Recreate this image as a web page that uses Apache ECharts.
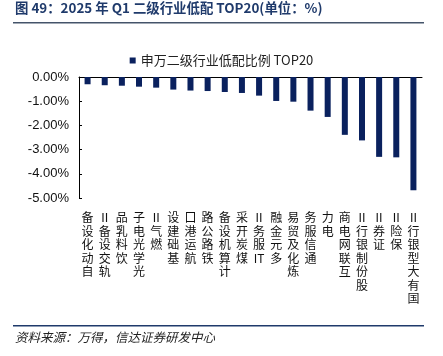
<!DOCTYPE html>
<html><head><meta charset="utf-8">
<script src="https://cdn.jsdelivr.net/npm/echarts@6/dist/echarts.min.js"></script>
<style>html,body{margin:0;padding:0;background:#fff}#c{width:443px;height:356px}</style>
</head><body><div id="c"></div>
<script>
var categories = ['自动化设备','轨交设备Ⅱ','饮料乳品','光学光电子','燃气Ⅱ','基础建设','航运港口','铁路公路','计算机设备','煤炭开采','IT服务Ⅱ','多元金融','炼化及贸易','通信服务','电力','互联网电商','股份制银行Ⅱ','证券Ⅱ','保险Ⅱ','国有大型银行Ⅱ'];
var values = [-0.30,-0.34,-0.36,-0.40,-0.44,-0.52,-0.56,-0.58,-0.62,-0.66,-0.77,-0.99,-1.02,-1.39,-1.65,-2.39,-2.62,-3.30,-3.32,-4.68];
var seriesName = '申万二级行业低配比例 TOP20';
var titleText = '图 49：2025 年 Q1 二级行业低配 TOP20(单位：%)';
var sourceText = '资料来源：万得，信达证券研发中心';

function stackLabel(s){
  var toks = s.match(/[A-Za-z0-9]+|./g) || [];
  return toks.reverse().join('\n');
}
var chart = echarts.init(document.getElementById('c'));
var cjk = '"Noto Sans CJK SC", "Noto Sans", sans-serif';
chart.setOption({
  animation:false,
  textStyle:{fontFamily:cjk},
  grid:{left:79,right:21,top:77,bottom:158,containLabel:false},
  legend:{
    data:[seriesName], top:49, left:'center', itemWidth:6, itemHeight:6, itemGap:6,
    icon:'rect', textStyle:{fontSize:13,color:'#222',fontFamily:cjk}
  },
  xAxis:[{
    type:'category', data:categories, position:'top',
    axisLine:{show:true,lineStyle:{color:'#000',width:1}},
    axisTick:{show:false}, axisLabel:{show:false}
  },{
    type:'category', data:categories, position:'bottom',
    axisLine:{show:false}, axisTick:{show:false},
    axisLabel:{show:true,interval:0,margin:13,fontSize:12,lineHeight:13.5,color:'#111',
      verticalAlign:'top',align:'center',formatter:stackLabel,fontFamily:cjk}
  }],
  yAxis:{
    type:'value', min:-5, max:0, interval:1,
    axisLine:{show:true,lineStyle:{color:'#000',width:1}},
    axisTick:{show:true,inside:true,length:3,lineStyle:{color:'#000'}},
    splitLine:{show:false},
    axisLabel:{fontSize:13,color:'#111',margin:10,fontFamily:'Arial, "Liberation Sans", sans-serif',
      formatter:function(v){return v.toFixed(2)+'%';}}
  },
  series:[{
    name:seriesName, type:'bar', xAxisIndex:0, data:values, barWidth:6,
    itemStyle:{color:'#0a215e'}
  }],
  graphic:[
    {type:'text',left:15,top:1,style:{text:titleText,fontSize:13.4,fontWeight:'bold',fill:'#1f3a6b',fontFamily:cjk}},
    {type:'rect',shape:{x:13,y:22,width:411,height:1.5},style:{fill:'#44546a'}},
    {type:'rect',shape:{x:13,y:325,width:411,height:1.5},style:{fill:'#1f3a6b'}},
    {type:'text',left:15,top:331,style:{text:sourceText,fontSize:12.5,fontStyle:'italic',fill:'#222',fontFamily:cjk}}
  ]
});
</script></body></html>
